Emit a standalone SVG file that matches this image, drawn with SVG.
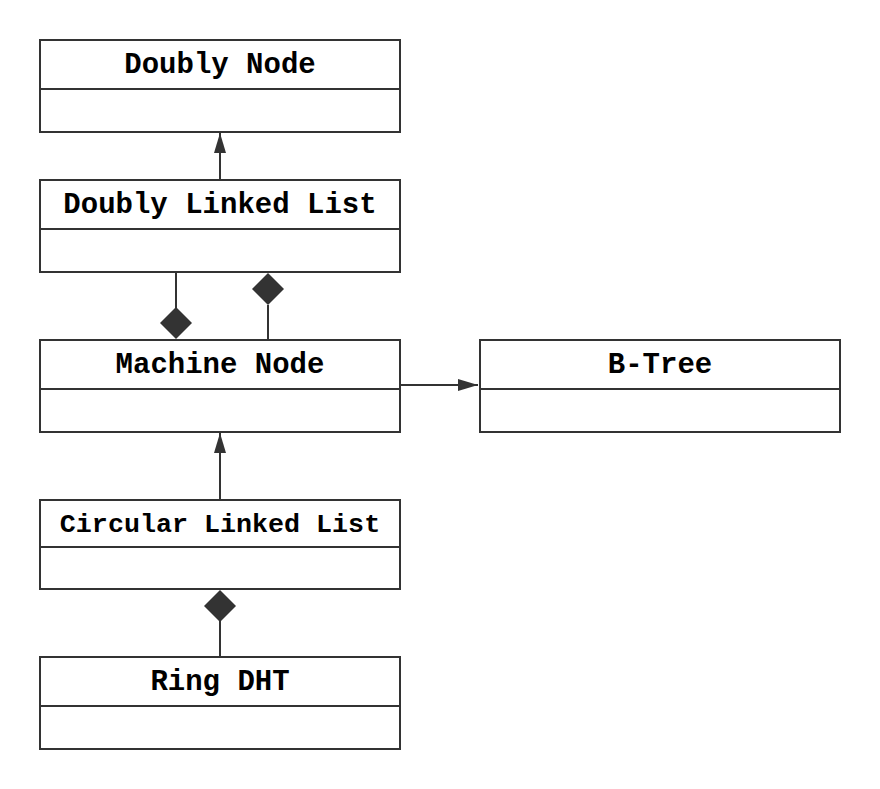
<svg xmlns="http://www.w3.org/2000/svg" width="880" height="789" viewBox="0 0 880 789">
<defs>
<style>
.box{fill:#fff;stroke:#333;stroke-width:2}
.ln{stroke:#333;stroke-width:2;fill:none}
.t{font-family:"Liberation Mono","DejaVu Sans Mono",monospace;font-weight:bold;font-size:29px;fill:#000;text-anchor:middle}
.dia{fill:#333;stroke:none}
</style>
<marker id="arr" viewBox="0 0 20 12" refX="20" refY="6" markerWidth="20" markerHeight="12" markerUnits="userSpaceOnUse" orient="auto">
<path d="M0,0 L20,6 L0,12 Z" fill="#333"/>
</marker>
</defs>
<rect width="880" height="789" fill="#fff"/>
<g id="doubly-node">
<rect class="box" x="40" y="40" width="360" height="92"/>
<line class="ln" x1="40" y1="89" x2="400" y2="89"/>
<text class="t" x="220" y="73">Doubly Node</text>
</g>
<g id="doubly-linked-list">
<rect class="box" x="40" y="180" width="360" height="92"/>
<line class="ln" x1="40" y1="229" x2="400" y2="229"/>
<text class="t" x="220" y="213">Doubly Linked List</text>
</g>
<g id="machine-node">
<rect class="box" x="40" y="340" width="360" height="92"/>
<line class="ln" x1="40" y1="389" x2="400" y2="389"/>
<text class="t" x="220" y="373">Machine Node</text>
</g>
<g id="b-tree">
<rect class="box" x="480" y="340" width="360" height="92"/>
<line class="ln" x1="480" y1="389" x2="840" y2="389"/>
<text class="t" x="660" y="373">B-Tree</text>
</g>
<g id="circular-linked-list">
<rect class="box" x="40" y="500" width="360" height="89"/>
<line class="ln" x1="40" y1="547" x2="400" y2="547"/>
<text class="t" x="220" y="532" style="font-size:26.7px">Circular Linked List</text>
</g>
<g id="ring-dht">
<rect class="box" x="40" y="657" width="360" height="92"/>
<line class="ln" x1="40" y1="706" x2="400" y2="706"/>
<text class="t" x="220" y="690">Ring DHT</text>
</g>
<g id="connectors">
<line class="ln" x1="220" y1="180" x2="220" y2="133" marker-end="url(#arr)"/>
<line class="ln" x1="176" y1="272" x2="176" y2="308"/>
<path class="dia" d="M176,307 L192,323 L176,339 L160,323 Z"/>
<line class="ln" x1="268" y1="305" x2="268" y2="340"/>
<path class="dia" d="M268,273 L284,289 L268,305 L252,289 Z"/>
<line class="ln" x1="400" y1="385" x2="478" y2="385" marker-end="url(#arr)"/>
<line class="ln" x1="220" y1="500" x2="220" y2="433" marker-end="url(#arr)"/>
<line class="ln" x1="220" y1="621" x2="220" y2="657"/>
<path class="dia" d="M220,590 L236,606 L220,622 L204,606 Z"/>
</g>
</svg>
